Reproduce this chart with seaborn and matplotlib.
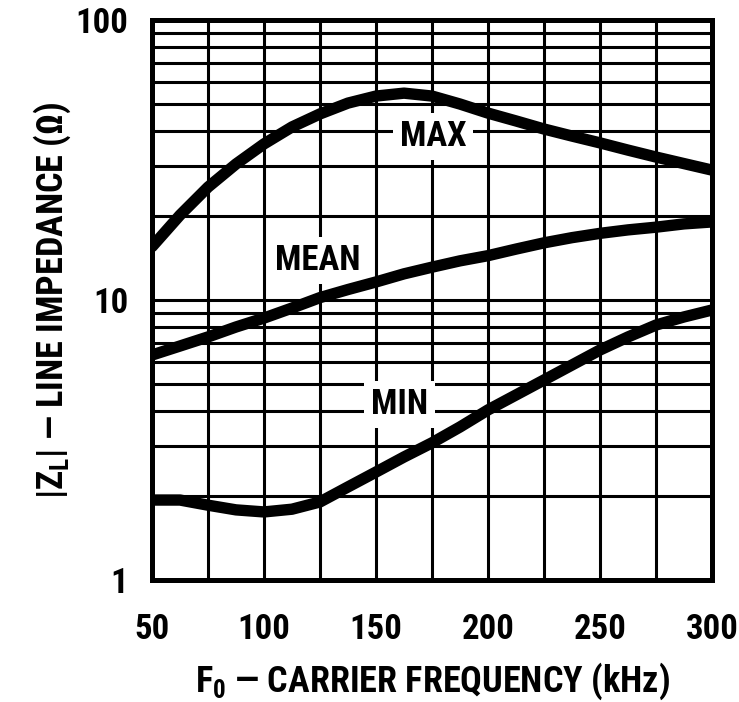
import matplotlib
matplotlib.use("Agg")
import pandas as pd
import seaborn as sns
import matplotlib.pyplot as plt
from matplotlib.ticker import MultipleLocator, LogLocator, NullFormatter, FixedLocator, FixedFormatter

# carrier frequency (kHz) and line impedance (ohm)
freq_khz = [50, 62.5, 75, 87.5, 100, 112.5, 125, 137.5, 150, 162.5, 175,
            187.5, 200, 212.5, 225, 237.5, 250, 262.5, 275, 287.5, 300]
z_max = [15.5, 20.1, 25.3, 30.6, 36.1, 41.5, 46.2, 50.5, 53.5, 54.8, 53.5,
         50.1, 46.5, 43.6, 40.8, 38.5, 36.4, 34.3, 32.4, 30.7, 29.1]
z_mean = [6.36, 6.85, 7.38, 8.01, 8.62, 9.36, 10.2, 10.9, 11.6, 12.4, 13.1,
          13.8, 14.4, 15.2, 16.0, 16.7, 17.3, 17.8, 18.2, 18.7, 19.0]
z_min = [1.93, 1.93, 1.85, 1.78, 1.75, 1.79, 1.90, 2.15, 2.43, 2.75, 3.09,
         3.52, 4.05, 4.58, 5.18, 5.86, 6.63, 7.38, 8.14, 8.70, 9.21]

curve_names = ["MAX", "MEAN", "MIN"]
label_x = [175.4, 124.1, 160.7]
label_y = [38.5, 13.8, 4.22]

x_ticks = [50, 100, 150, 200, 250, 300]
y_ticks = [1, 10, 100]
y_tick_labels = ["1", "10", "100"]

df = pd.DataFrame({
    "freq": freq_khz * 3,
    "impedance": z_max + z_mean + z_min,
    "curve": ["MAX"] * len(freq_khz) + ["MEAN"] * len(freq_khz) + ["MIN"] * len(freq_khz),
})

sns.set_style("white")
plt.rcParams["font.family"] = ["Roboto Condensed", "DejaVu Sans"]
plt.rcParams["font.weight"] = "bold"
plt.rcParams["mathtext.fontset"] = "custom"
plt.rcParams["mathtext.rm"] = "Roboto Condensed:bold"
plt.rcParams["mathtext.it"] = "Roboto Condensed:bold"
plt.rcParams["mathtext.bf"] = "Roboto Condensed:bold"
plt.rcParams["mathtext.default"] = "rm"
for key in ["text.color", "axes.labelcolor", "xtick.color", "ytick.color"]:
    plt.rcParams[key] = "black"

fig = plt.figure(figsize=(7.39, 7.02), dpi=100)
ax = fig.add_axes([0.2057, 0.1738, 0.7578, 0.7977])

sns.lineplot(data=df, x="freq", y="impedance", hue="curve",
             palette=["black"] * 3, linewidth=8.2, legend=False,
             sort=False, zorder=4, ax=ax)

ax.set_yscale("log")
ax.set_xlim(50, 300)
ax.set_ylim(1, 100)

ax.xaxis.set_major_locator(FixedLocator(x_ticks))
ax.xaxis.set_minor_locator(MultipleLocator(25))
ax.yaxis.set_major_locator(FixedLocator(y_ticks))
ax.yaxis.set_major_formatter(FixedFormatter(y_tick_labels))
ax.yaxis.set_minor_locator(LogLocator(base=10, subs=range(2, 10)))
ax.yaxis.set_minor_formatter(NullFormatter())

ax.set_axisbelow(True)
ax.grid(which="both", color="black", linewidth=2.2)
ax.tick_params(which="both", length=0, labelsize=25)
ax.tick_params(axis="x", pad=24)
ax.tick_params(axis="y", pad=17)
for sp in ax.spines.values():
    sp.set_color("black")
    sp.set_linewidth(3.6)

for name, x, y in zip(curve_names, label_x, label_y):
    ax.text(x, y, name, ha="center", va="center", fontsize=25, fontweight="bold",
            bbox=dict(facecolor="white", edgecolor="none", pad=5), zorder=3)

ax.set_xlabel("F$_0$ — CARRIER FREQUENCY (kHz)", fontsize=26, fontweight="bold", labelpad=10)
ax.set_ylabel("|Z$_L$| — LINE IMPEDANCE (Ω)", fontsize=26, fontweight="bold", labelpad=2)

fig.savefig("out.png", dpi=100)
